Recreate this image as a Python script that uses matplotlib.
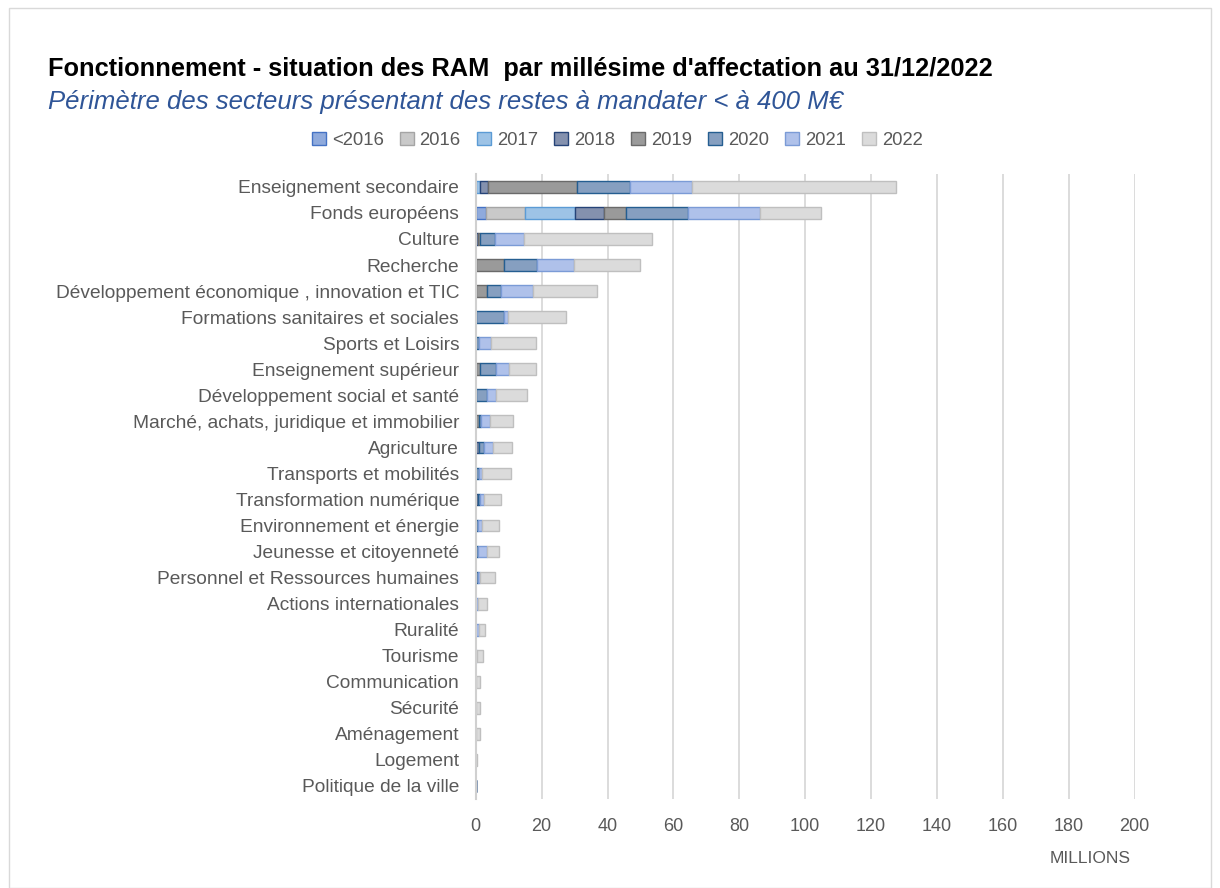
import numpy as np
import matplotlib.pyplot as plt
from matplotlib.patches import Rectangle

plt.rcParams.update({
    "font.family": ["Liberation Sans", "DejaVu Sans"],
    "font.size": 12,
})

# secteurs, du plus gros au plus petit
categories = [
    "Enseignement secondaire", "Fonds européens", "Culture", "Recherche",
    "Développement économique , innovation et TIC",
    "Formations sanitaires et sociales", "Sports et Loisirs",
    "Enseignement supérieur", "Développement social et santé",
    "Marché, achats, juridique et immobilier", "Agriculture",
    "Transports et mobilités", "Transformation numérique",
    "Environnement et énergie", "Jeunesse et citoyenneté",
    "Personnel et Ressources humaines", "Actions internationales",
    "Ruralité", "Tourisme", "Communication", "Sécurité", "Aménagement",
    "Logement", "Politique de la ville",
]

# restes à mandater par millésime (M€)
ram_lt2016 = [0, 3.2, 0, 0, 0, 0, 0, 0, 0, 0, 0, 0,
              0, 0, 0, 0, 0, 0, 0, 0, 0, 0, 0, 0]
ram_2016 = [0, 11.6, 0, 0, 0, 0, 0, 0, 0, 0, 0, 0,
            0, 0, 0, 0, 0, 0, 0, 0, 0, 0, 0, 0]
ram_2017 = [1.4, 15.2, 0, 0, 0, 0, 0, 0, 0, 0, 0, 0,
            0, 0, 0, 0, 0, 0, 0, 0, 0, 0, 0, 0]
ram_2018 = [2.3, 8.8, 0.7, 0, 0, 0, 0, 0, 0, 0, 0.9, 0,
            0.6, 0, 0, 0, 0, 0, 0, 0, 0, 0, 0, 0]
ram_2019 = [27.0, 6.7, 0.7, 8.5, 3.4, 0, 0, 1.2, 0, 1.0, 0, 0,
            0, 0, 0, 0, 0, 0, 0, 0, 0, 0, 0, 0]
ram_2020 = [16.2, 19.0, 4.5, 10.1, 4.2, 8.6, 1.0, 4.9, 3.4, 0.6, 1.5, 0.9,
            0.8, 0.7, 0.8, 0.6, 0, 0, 0, 0, 0, 0, 0, 0]
ram_2021 = [18.6, 21.9, 8.7, 11.3, 9.8, 1.2, 3.7, 4.0, 2.6, 2.6, 2.8, 1.1,
            1.0, 1.1, 2.6, 0.8, 0.7, 1.0, 0.5, 0, 0, 0, 0, 0]
ram_2022 = [62.1, 18.5, 39.0, 20.0, 19.4, 17.7, 13.7, 8.3, 9.5, 7.1, 5.9, 8.8,
            5.2, 5.3, 3.6, 4.4, 2.7, 1.8, 1.8, 1.4, 1.4, 1.4, 0.4, 0]

years = ["<2016", "2016", "2017", "2018", "2019", "2020", "2021", "2022"]
series = [ram_lt2016, ram_2016, ram_2017, ram_2018,
          ram_2019, ram_2020, ram_2021, ram_2022]

# remplissage / bordure façon Excel
fills = ["#8FAADC", "#C9C9C9", "#9DC3E6", "#8491AE",
         "#9A9A9A", "#869FC0", "#AFC1EA", "#DBDBDB"]
edges = ["#4472C4", "#A5A5A5", "#5B9BD5", "#264478",
         "#6A6A6A", "#255E91", "#7B9BD6", "#BFBFBF"]

TXT = "#595959"

fig = plt.figure(figsize=(12.2, 8.88), dpi=100)
fig.add_artist(Rectangle((0.007, 0.0), 0.986, 0.991, transform=fig.transFigure,
                         fill=False, edgecolor="#D9D9D9", lw=1))

ax = fig.add_axes([0.390, 0.1002, 0.540, 0.704])

y = np.arange(len(categories))
left = np.zeros(len(categories))
for yr, vals, fc, ec in zip(years, series, fills, edges):
    vals = np.array(vals)
    ax.barh(y, vals, left=left, height=0.45, color=fc, edgecolor=ec,
            linewidth=1.0, label=yr, zorder=3)
    left += vals

ax.set_ylim(len(categories) - 0.5, -0.5)
ax.set_xlim(0, 200)
ax.set_xticks(np.arange(0, 201, 20))
ax.set_yticks(y)
ax.set_yticklabels(categories)
ax.tick_params(axis="x", length=0, colors=TXT, labelsize=13, pad=14)
ax.tick_params(axis="y", length=0, colors=TXT, labelsize=13.8, pad=12)

ax.grid(axis="x", color="#D9D9D9", lw=1.3, zorder=0)
for s in ["top", "right", "bottom"]:
    ax.spines[s].set_visible(False)
ax.spines["left"].set_color("#D0D0D0")
ax.spines["left"].set_linewidth(1.5)
ax.spines["left"].set_zorder(4)

fig.text(0.927, 0.025, "MILLIONS", ha="right", va="bottom",
         color=TXT, fontsize=12.5)

fig.text(0.039, 0.909,
         "Fonctionnement - situation des RAM  par millésime d'affectation au 31/12/2022",
         fontsize=18.3, fontweight="bold", color="black", va="bottom")
fig.text(0.039, 0.872,
         "Périmètre des secteurs présentant des restes à mandater < à 400 M€",
         fontsize=18.5, fontstyle="italic", color="#2F5597", va="bottom")

leg = fig.legend(loc="center", bbox_to_anchor=(0.506, 0.842), ncol=8,
                 frameon=False, fontsize=13.3, handlelength=0.75,
                 handleheight=0.75, handletextpad=0.3, columnspacing=0.9)
for t in leg.get_texts():
    t.set_color(TXT)

fig.savefig("out.png", dpi=100)
